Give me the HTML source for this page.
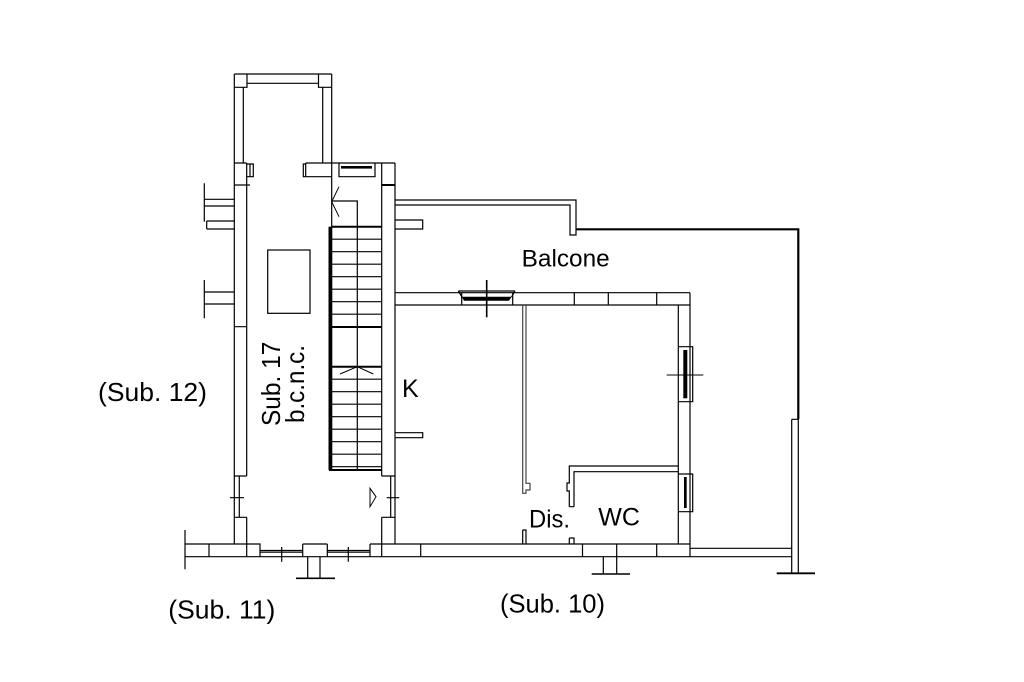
<!DOCTYPE html>
<html><head><meta charset="utf-8"><style>
html,body{margin:0;padding:0;background:#fff;}
svg{display:block;}
text{font-family:"Liberation Sans",sans-serif;fill:#000;}
</style></head><body>
<svg width="1024" height="682" viewBox="0 0 1024 682" xmlns="http://www.w3.org/2000/svg">
<rect width="1024" height="682" fill="#fff"/>
<g fill="none" stroke="#000" stroke-width="1.2">
<!-- tower top -->
<path d="M234.3,74 H331.7 M247,83.3 H318.5 M234.3,87.3 H247 V74 M318.5,74 V87.3 H331.7 M243.3,87.3 V163 M322.7,87.3 V163"/>
<path d="M234.3,74 V476 M331.7,74 V470"/>
<!-- left wall upper -->
<path d="M234.3,163 H246.7 M246.7,163 V476 M234.3,185 H250 M234.3,326.7 H246.7 M234.3,476 H246.7" />
<path d="M246.7,164 H253.3 V176.7 H246.7 M250,164 V176.7"/>
<!-- tower right block -->
<path d="M303.3,164 H305.7 V176.7 H303.3 Z M305.7,163 H395 M305.7,176.7 H331.7 M305.7,163 V176.7"/>
<!-- top window -->
<path d="M339,163 V176.7 H375 V163"/>
<rect x="341" y="166" width="31" height="2.6" fill="#000" stroke="none"/>
<!-- right column -->
<path d="M381.7,163 V476 M395,163 V544 M381.7,476 H395"/>
<path d="M381.7,185 H395" stroke-width="2"/>
<!-- stair -->
<path d="M339,186.7 L331.7,201.7 L339,216.7" stroke-width="1"/>
<path d="M331.7,201 H357.3 V470"/>
<path d="M331.7,239.2 H381.7 M331.7,251.7 H381.7 M331.7,264.2 H381.7 M331.7,276.7 H381.7 M331.7,289.2 H381.7 M331.7,301.7 H381.7 M331.7,314.2 H381.7"/>
<path d="M331.7,379.2 H381.7 M331.7,391.7 H381.7 M331.7,404.2 H381.7 M331.7,416.7 H381.7 M331.7,429.2 H381.7 M331.7,441.7 H381.7 M331.7,454.2 H381.7 M331.7,466.7 H381.7"/>
<path d="M331.7,226.7 H381.7 M331.7,327 H381.7 M331.7,366.7 H381.7 M329,470 H381.7" stroke-width="2"/>
<path d="M340,374 L357.3,366.7 L373.3,374" stroke-width="1"/>
<!-- doors lower -->
<path d="M234.3,476 V517.3 M239.3,476 V517.3 M230,497.7 H244"/>
<path d="M234.3,517.3 H246.7 M234.3,517.3 V544 M246.7,517.3 V556.7"/>
<path d="M390.7,476 V517.3 M386.7,497.7 H399.3 M381.7,517.3 H395 M381.7,517.3 V556.7"/>
<path d="M370,488.3 L376,496.7 L370,506.7 Z" stroke-width="1"/>
<!-- bottom wall left -->
<path d="M185,530 V569.3 M185,544 H260 V556.7 M185,556.7 H260 M209,544 V556.7"/>
<path d="M260,550.5 H302.7 M260,552.2 H302.7 M260,556.7 H302.7 M281.7,547 V561.7"/>
<path d="M302.7,544 H327.3 M302.7,544 V556.7 M327.3,544 V556.7 M302.7,556.7 H327.3"/>
<path d="M307.7,556.7 V578.3 M320,556.7 V578.3"/>
<path d="M296,578.3 H335" stroke-width="1.6"/>
<path d="M327.3,550.5 H370 M327.3,552.2 H370 M327.3,556.7 H370 M348.3,547 V561.7"/>
<path d="M370,544 H690 M370,544 V556.7 M370,556.7 H690 M420.7,544 V556.7 M582.5,544 V556.7 M656.7,544 V556.7"/>
<path d="M616.7,544 V574 M603.3,556.7 V574"/>
<path d="M591.7,574 H630" stroke-width="1.6"/>
<!-- room top wall -->
<path d="M395,292.7 H690 M395,305 H678.3 M461.7,292.7 V305 M512.7,292.7 V305 M574.3,292.7 V305 M608.3,292.7 V305 M656.7,292.7 V305"/>
<path d="M458.3,291 H515 M458.3,291 L462,297 M515,291 L511.5,297"/>
<path d="M461.7,296.7 H511.7 L509,300.7 H464 Z" fill="#000" stroke="none"/>
<path d="M486.7,280 V317.3" stroke-width="1.6"/>
<!-- room right wall -->
<path d="M690,292.7 V556.7 M678.3,305 V544 M678.3,305 H690"/>
<path d="M678.3,346.7 H692.7 V401.7 H678.3"/>
<rect x="683.3" y="350" width="4" height="48.3" fill="#000" stroke="none"/>
<path d="M666.7,375 H703.3" stroke-width="1"/>
<path d="M678.3,474 H692.7 V511.7 H678.3"/>
<rect x="684" y="477" width="2.7" height="31" fill="#000" stroke="none"/>
<!-- balcony -->
<path d="M395,200 H576 V235 H570 V205 H395"/>
<path d="M576,229.3 H798.3 V419.3" stroke-width="2.2"/>
<path d="M791.7,419.3 H798.3 M791.7,419.3 V573.3 M798.3,419.3 V573.3"/>
<path d="M776.7,573.3 H815" stroke-width="1.8"/>
<path d="M690,548.3 H791.7 M690,556.7 H791.7"/>
<!-- left stubs -->
<path d="M204.3,183.3 V221.7 M204.3,199.3 H234.3 M204.3,206 H234.3 M206.7,221 H234.3 M206.7,229 H234.3 M206.7,221 V229"/>
<path d="M204.3,280 V318.3 M204.3,292 H234.3 M204.3,304 H234.3"/>
<!-- right stubs -->
<path d="M395,220 H422.7 V229 H395"/>
<path d="M395,432.7 H422.7 V437.7 H395"/>
<!-- partitions -->
<path d="M522.7,305 V493.3 H526 V490 H530 V483.3 H526 V305" stroke="#444"/>
<path d="M522.7,530 H526 V544 M522.7,530 V544"/>
<path d="M574,506.7 V471.7 H678.3 M569.3,506.7 V491 H567 V483 H569.3 V466 H678.3 M569.3,506.7 H574"/>
<path d="M569.3,538 H574 V544 M569.3,538 V544"/>
<!-- rectangle -->
<rect x="267.7" y="250" width="42.3" height="63.3"/>
</g>
<rect x="328.5" y="226.7" width="3.2" height="243.3" fill="#000"/>
<!-- texts -->
<text x="521.7" y="266.7" font-size="24" textLength="88" lengthAdjust="spacingAndGlyphs">Balcone</text>
<text x="98" y="401" font-size="26" textLength="109" lengthAdjust="spacingAndGlyphs">(Sub. 12)</text>
<text x="402" y="397" font-size="25">K</text>
<text x="168.3" y="618.3" font-size="26" textLength="107" lengthAdjust="spacingAndGlyphs">(Sub. 11)</text>
<text x="500" y="612.7" font-size="26" textLength="105" lengthAdjust="spacingAndGlyphs">(Sub. 10)</text>
<text x="529" y="527.3" font-size="25" textLength="41" lengthAdjust="spacingAndGlyphs">Dis.</text>
<text x="598.3" y="525.5" font-size="25" textLength="41.7" lengthAdjust="spacingAndGlyphs">WC</text>
<text transform="translate(280,426) rotate(-90)" font-size="26" textLength="84.3" lengthAdjust="spacingAndGlyphs">Sub. 17</text>
<text transform="translate(304,423) rotate(-90)" font-size="26" textLength="78" lengthAdjust="spacingAndGlyphs">b.c.n.c.</text>
</svg>
</body></html>
